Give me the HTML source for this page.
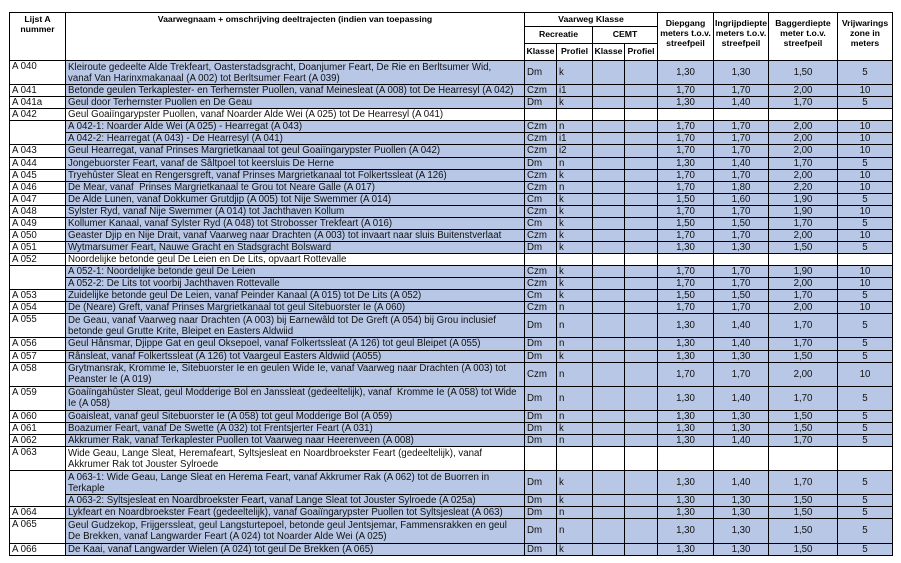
<!DOCTYPE html>
<html><head><meta charset="utf-8"><style>
body{margin:0;background:#fff;width:901px;height:563px;overflow:hidden;font-family:"Liberation Sans",Arial,sans-serif;}
table{position:absolute;left:9px;top:12px;border-collapse:collapse;table-layout:fixed;width:883px;}
td{border:1px solid #000;padding:0 2px;font-size:9.7px;line-height:11px;color:#111;vertical-align:middle;overflow:hidden;white-space:nowrap;background:#b8c7e6;}
td.w{background:#fff;}
td.c{text-align:center;}
th{border:1px solid #000;font-size:8.7px;font-weight:bold;line-height:9.8px;padding:0 1px;vertical-align:top;text-align:center;background:#fff;}
tr.s{height:12.07px}
tr.d{height:24.14px}
td.t{white-space:normal;padding-right:7px}
</style></head><body>
<table>
<colgroup><col style="width:56px"><col style="width:459px"><col style="width:32px"><col style="width:36px"><col style="width:32px"><col style="width:33px"><col style="width:56px"><col style="width:55px"><col style="width:69px"><col style="width:55px"></colgroup>
<tr style="height:14px"><th rowspan="3" style="padding-top:2px">Lijst A<br>nummer</th><th rowspan="3" style="padding-top:2px">Vaarwegnaam + omschrijving deeltrajecten (indien van toepassing</th><th colspan="4" style="padding-top:2px">Vaarweg Klasse</th><th rowspan="3" style="padding-top:6px">Diepgang meters t.o.v. streefpeil</th><th rowspan="3" style="padding-top:6px">Ingrijpdiepte meters t.o.v. streefpeil</th><th rowspan="3" style="padding-top:6px">Baggerdiepte meter t.o.v. streefpeil</th><th rowspan="3" style="padding-top:6px">Vrijwarings zone in meters</th></tr>
<tr style="height:17px"><th colspan="2" style="vertical-align:middle">Recreatie</th><th colspan="2" style="vertical-align:middle">CEMT</th></tr>
<tr style="height:17px"><th style="vertical-align:middle">Klasse</th><th style="vertical-align:middle">Profiel</th><th style="vertical-align:middle">Klasse</th><th style="vertical-align:middle">Profiel</th></tr>

<tr class="d"><td class="w" style="vertical-align:top">A 040</td><td class="t">Kleiroute gedeelte Alde Trekfeart, Oasterstadsgracht, Doanjumer Feart, De Rie en Berltsumer Wid,<br>vanaf Van Harinxmakanaal (A 002) tot Berltsumer Feart (A 039)</td><td>Dm</td><td>k</td><td></td><td></td><td class="c">1,30</td><td class="c">1,30</td><td class="c">1,50</td><td class="c">5</td></tr>
<tr class="s"><td class="w">A 041</td><td>Betonde geulen Terkaplester- en Terhernster Puollen, vanaf Meinesleat (A 008) tot De Hearresyl (A 042)</td><td>Czm</td><td>i1</td><td></td><td></td><td class="c">1,70</td><td class="c">1,70</td><td class="c">2,00</td><td class="c">10</td></tr>
<tr class="s"><td class="w">A 041a</td><td>Geul door Terhernster Puollen en De Geau</td><td>Dm</td><td>k</td><td></td><td></td><td class="c">1,30</td><td class="c">1,40</td><td class="c">1,70</td><td class="c">5</td></tr>
<tr class="s"><td class="w">A 042</td><td class="w">Geul Goaiïngarypster Puollen, vanaf Noarder Alde Wei (A 025) tot De Hearresyl (A 041)</td><td class="w"></td><td class="w"></td><td class="w"></td><td class="w"></td><td class="w"></td><td class="w"></td><td class="w"></td><td class="w"></td></tr>
<tr class="s"><td class="w" rowspan="2"></td><td>A 042-1: Noarder Alde Wei (A 025) - Hearregat (A 043)</td><td>Czm</td><td>n</td><td></td><td></td><td class="c">1,70</td><td class="c">1,70</td><td class="c">2,00</td><td class="c">10</td></tr>
<tr class="s"><td>A 042-2: Hearregat (A 043) - De Hearresyl (A 041)</td><td>Czm</td><td>i1</td><td></td><td></td><td class="c">1,70</td><td class="c">1,70</td><td class="c">2,00</td><td class="c">10</td></tr>
<tr class="s"><td class="w">A 043</td><td>Geul Hearregat, vanaf Prinses Margrietkanaal tot geul Goaiïngarypster Puollen (A 042)</td><td>Czm</td><td>i2</td><td></td><td></td><td class="c">1,70</td><td class="c">1,70</td><td class="c">2,00</td><td class="c">10</td></tr>
<tr class="s"><td class="w">A 044</td><td>Jongebuorster Feart, vanaf de Sâltpoel tot keersluis De Herne</td><td>Dm</td><td>n</td><td></td><td></td><td class="c">1,30</td><td class="c">1,40</td><td class="c">1,70</td><td class="c">5</td></tr>
<tr class="s"><td class="w">A 045</td><td>Tryehûster Sleat en Rengersgreft, vanaf Prinses Margrietkanaal tot Folkertssleat (A 126)</td><td>Czm</td><td>k</td><td></td><td></td><td class="c">1,70</td><td class="c">1,70</td><td class="c">2,00</td><td class="c">10</td></tr>
<tr class="s"><td class="w">A 046</td><td>De Mear, vanaf &nbsp;Prinses Margrietkanaal te Grou tot Neare Galle (A 017)</td><td>Czm</td><td>n</td><td></td><td></td><td class="c">1,70</td><td class="c">1,80</td><td class="c">2,20</td><td class="c">10</td></tr>
<tr class="s"><td class="w">A 047</td><td>De Alde Lunen, vanaf Dokkumer Grutdjip (A 005) tot Nije Swemmer (A 014)</td><td>Cm</td><td>k</td><td></td><td></td><td class="c">1,50</td><td class="c">1,60</td><td class="c">1,90</td><td class="c">5</td></tr>
<tr class="s"><td class="w">A 048</td><td>Sylster Ryd, vanaf Nije Swemmer (A 014) tot Jachthaven Kollum</td><td>Czm</td><td>k</td><td></td><td></td><td class="c">1,70</td><td class="c">1,70</td><td class="c">1,90</td><td class="c">10</td></tr>
<tr class="s"><td class="w">A 049</td><td>Kollumer Kanaal, vanaf Sylster Ryd (A 048) tot Strobosser Trekfeart (A 016)</td><td>Cm</td><td>k</td><td></td><td></td><td class="c">1,50</td><td class="c">1,50</td><td class="c">1,70</td><td class="c">5</td></tr>
<tr class="s"><td class="w">A 050</td><td>Geaster Djip en Nije Drait, vanaf Vaarweg naar Drachten (A 003) tot invaart naar sluis Buitenstverlaat</td><td>Czm</td><td>k</td><td></td><td></td><td class="c">1,70</td><td class="c">1,70</td><td class="c">2,00</td><td class="c">10</td></tr>
<tr class="s"><td class="w">A 051</td><td>Wytmarsumer Feart, Nauwe Gracht en Stadsgracht Bolsward</td><td>Dm</td><td>k</td><td></td><td></td><td class="c">1,30</td><td class="c">1,30</td><td class="c">1,50</td><td class="c">5</td></tr>
<tr class="s"><td class="w">A 052</td><td class="w">Noordelijke betonde geul De Leien en De Lits, opvaart Rottevalle</td><td class="w"></td><td class="w"></td><td class="w"></td><td class="w"></td><td class="w"></td><td class="w"></td><td class="w"></td><td class="w"></td></tr>
<tr class="s"><td class="w" rowspan="2"></td><td>A 052-1: Noordelijke betonde geul De Leien</td><td>Czm</td><td>k</td><td></td><td></td><td class="c">1,70</td><td class="c">1,70</td><td class="c">1,90</td><td class="c">10</td></tr>
<tr class="s"><td>A 052-2: De Lits tot voorbij Jachthaven Rottevalle</td><td>Czm</td><td>k</td><td></td><td></td><td class="c">1,70</td><td class="c">1,70</td><td class="c">2,00</td><td class="c">10</td></tr>
<tr class="s"><td class="w">A 053</td><td>Zuidelijke betonde geul De Leien, vanaf Peinder Kanaal (A 015) tot De Lits (A 052)</td><td>Cm</td><td>k</td><td></td><td></td><td class="c">1,50</td><td class="c">1,50</td><td class="c">1,70</td><td class="c">5</td></tr>
<tr class="s"><td class="w">A 054</td><td>De (Neare) Greft, vanaf Prinses Margrietkanaal tot geul Sitebuorster Ie (A 060)</td><td>Czm</td><td>n</td><td></td><td></td><td class="c">1,70</td><td class="c">1,70</td><td class="c">2,00</td><td class="c">10</td></tr>
<tr class="d"><td class="w" style="vertical-align:top">A 055</td><td class="t">De Geau, vanaf Vaarweg naar Drachten (A 003) bij Earnewâld tot De Greft (A 054) bij Grou inclusief<br>betonde geul Grutte Krite, Bleipet en Easters Aldwiid</td><td>Dm</td><td>n</td><td></td><td></td><td class="c">1,30</td><td class="c">1,40</td><td class="c">1,70</td><td class="c">5</td></tr>
<tr class="s"><td class="w">A 056</td><td>Geul Hânsmar, Djippe Gat en geul Oksepoel, vanaf Folkertssleat (A 126) tot geul Bleipet (A 055)</td><td>Dm</td><td>n</td><td></td><td></td><td class="c">1,30</td><td class="c">1,40</td><td class="c">1,70</td><td class="c">5</td></tr>
<tr class="s"><td class="w">A 057</td><td>Rânsleat, vanaf Folkertssleat (A 126) tot Vaargeul Easters Aldwiid (A055)</td><td>Dm</td><td>k</td><td></td><td></td><td class="c">1,30</td><td class="c">1,30</td><td class="c">1,50</td><td class="c">5</td></tr>
<tr class="d"><td class="w" style="vertical-align:top">A 058</td><td class="t">Grytmansrak, Kromme Ie, Sitebuorster Ie en geulen Wide Ie, vanaf Vaarweg naar Drachten (A 003) tot<br>Peanster Ie (A 019)</td><td>Czm</td><td>n</td><td></td><td></td><td class="c">1,70</td><td class="c">1,70</td><td class="c">2,00</td><td class="c">10</td></tr>
<tr class="d"><td class="w" style="vertical-align:top">A 059</td><td class="t">Goaiïngahûster Sleat, geul Modderige Bol en Janssleat (gedeeltelijk), vanaf &nbsp;Kromme Ie (A 058) tot Wide<br>Ie (A 058)</td><td>Dm</td><td>n</td><td></td><td></td><td class="c">1,30</td><td class="c">1,40</td><td class="c">1,70</td><td class="c">5</td></tr>
<tr class="s"><td class="w">A 060</td><td>Goaisleat, vanaf geul Sitebuorster Ie (A 058) tot geul Modderige Bol (A 059)</td><td>Dm</td><td>n</td><td></td><td></td><td class="c">1,30</td><td class="c">1,30</td><td class="c">1,50</td><td class="c">5</td></tr>
<tr class="s"><td class="w">A 061</td><td>Boazumer Feart, vanaf De Swette (A 032) tot Frentsjerter Feart (A 031)</td><td>Dm</td><td>k</td><td></td><td></td><td class="c">1,30</td><td class="c">1,30</td><td class="c">1,50</td><td class="c">5</td></tr>
<tr class="s"><td class="w">A 062</td><td>Akkrumer Rak, vanaf Terkaplester Puollen tot Vaarweg naar Heerenveen (A 008)</td><td>Dm</td><td>n</td><td></td><td></td><td class="c">1,30</td><td class="c">1,40</td><td class="c">1,70</td><td class="c">5</td></tr>
<tr class="d"><td class="w" style="vertical-align:top">A 063</td><td class="t w">Wide Geau, Lange Sleat, Heremafeart, Syltsjesleat en Noardbroekster Feart (gedeeltelijk), vanaf<br>Akkrumer Rak tot Jouster Sylroede</td><td class="w"></td><td class="w"></td><td class="w"></td><td class="w"></td><td class="w"></td><td class="w"></td><td class="w"></td><td class="w"></td></tr>
<tr class="d"><td class="w" rowspan="2"></td><td class="t">A 063-1: Wide Geau, Lange Sleat en Herema Feart, vanaf Akkrumer Rak (A 062) tot de Buorren in<br>Terkaple</td><td>Dm</td><td>k</td><td></td><td></td><td class="c">1,30</td><td class="c">1,40</td><td class="c">1,70</td><td class="c">5</td></tr>
<tr class="s"><td>A 063-2: Syltsjesleat en Noardbroekster Feart, vanaf Lange Sleat tot Jouster Sylroede (A 025a)</td><td>Dm</td><td>k</td><td></td><td></td><td class="c">1,30</td><td class="c">1,30</td><td class="c">1,50</td><td class="c">5</td></tr>
<tr class="s"><td class="w">A 064</td><td>Lykfeart en Noardbroekster Feart (gedeeltelijk), vanaf Goaiïngarypster Puollen tot Syltsjesleat (A 063)</td><td>Dm</td><td>n</td><td></td><td></td><td class="c">1,30</td><td class="c">1,30</td><td class="c">1,50</td><td class="c">5</td></tr>
<tr class="d"><td class="w" style="vertical-align:top">A 065</td><td class="t">Geul Gudzekop, Frijgerssleat, geul Langsturtepoel, betonde geul Jentsjemar, Fammensrakken en geul<br>De Brekken, vanaf Langwarder Feart (A 024) tot Noarder Alde Wei (A 025)</td><td>Dm</td><td>n</td><td></td><td></td><td class="c">1,30</td><td class="c">1,30</td><td class="c">1,50</td><td class="c">5</td></tr>
<tr class="s"><td class="w">A 066</td><td>De Kaai, vanaf Langwarder Wielen (A 024) tot geul De Brekken (A 065)</td><td>Dm</td><td>k</td><td></td><td></td><td class="c">1,30</td><td class="c">1,30</td><td class="c">1,50</td><td class="c">5</td></tr>
</table>
</body></html>
